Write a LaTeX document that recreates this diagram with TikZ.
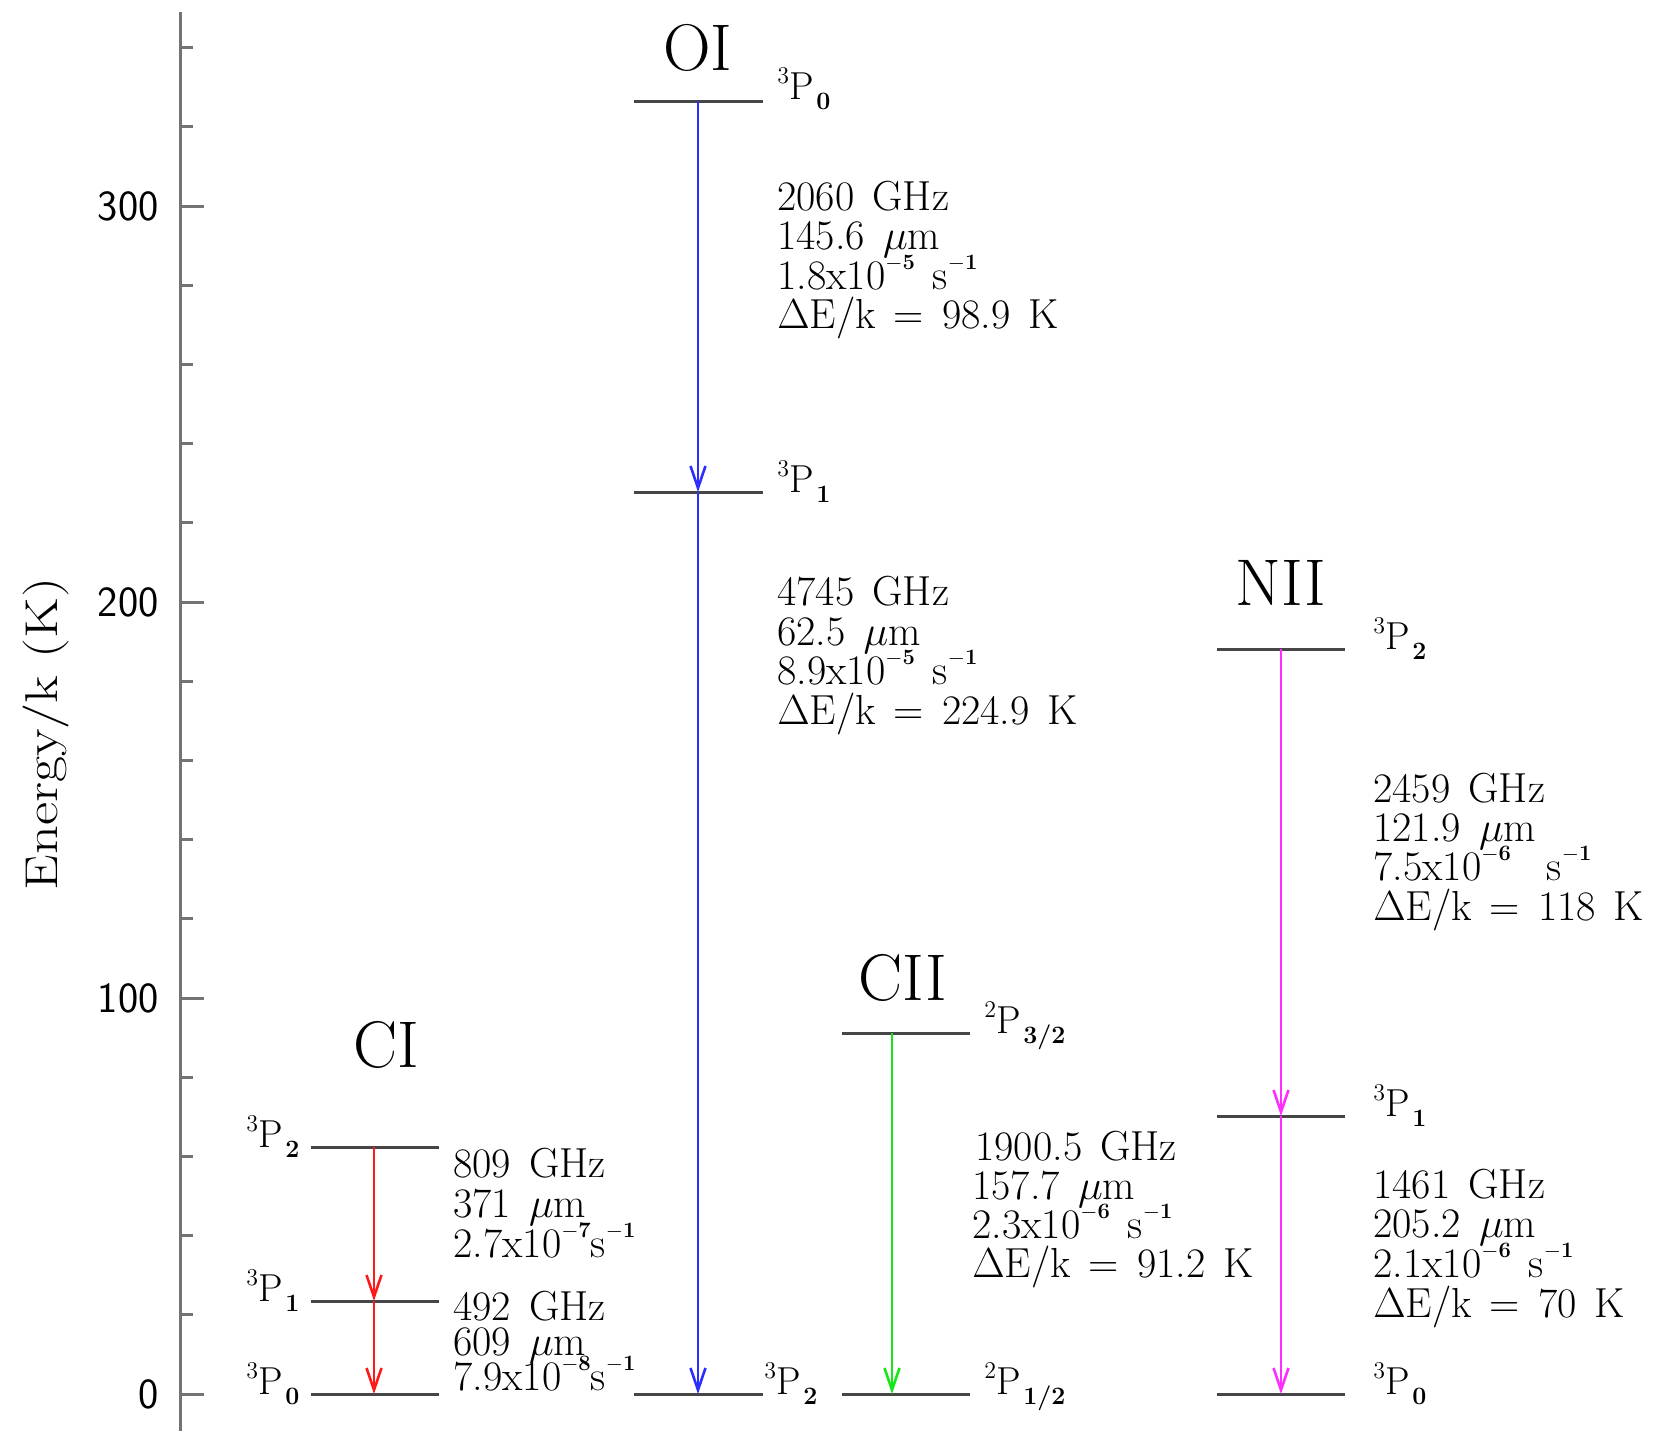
\RequirePackage{fix-cm}
\documentclass[tikz,border=0pt]{standalone}
\usetikzlibrary{arrows.meta}
\definecolor{lvlgray}{RGB}{70,70,70}
\definecolor{axgray}{RGB}{115,115,115}
\definecolor{oiblue}{RGB}{45,45,255}
\definecolor{cired}{RGB}{255,25,25}
\definecolor{ciigreen}{RGB}{25,230,25}
\definecolor{niimag}{RGB}{255,45,255}
\newcommand\trm[2]{\raisebox{8pt}{\fontsize{12}{12}\selectfont #1}\kern0.3pt P\kern1pt\raisebox{-5pt}{\fontsize{12.5}{12.5}\selectfont\bfseries #2}}
\newcommand\up[1]{\raisebox{10pt}{\fontsize{11}{11}\selectfont\bfseries #1}}
\begin{document}
\begin{tikzpicture}[x=0.5pt,y=-0.5pt,
  level/.style={draw=lvlgray, line width=1.5pt},
  axisline/.style={draw=axgray, line width=1.5pt},
  trans/.style={line width=1.3pt, -{Straight Barb[length=11pt,width=7.5pt,line width=1.3pt]}},
  datatext/.style={anchor=base west, inner sep=0pt, font={\fontsize{21}{21}\selectfont\spaceskip=9pt\relax}},
  termlab/.style={anchor=base west, inner sep=0pt, font=\fontsize{19.5}{19.5}\selectfont},
  species/.style={anchor=base, inner sep=0pt, font=\fontsize{33}{33}\selectfont},
  ticklab/.style={anchor=east, inner sep=0pt, font=\sffamily\fontsize{21.5}{21.5}\selectfont}]
\useasboundingbox (0,0) rectangle (1665,1431);

% axis
\coordinate (axtop) at (180.5,12);
\coordinate (axbot) at (180.5,1431);
\draw[axisline] (axtop) -- (axbot);
\foreach \k in {0,...,17}{
  \draw[axisline] (180.5,{1394-79.2*\k}) -- (193,{1394-79.2*\k});
}
\foreach \v/\n in {0/t0,100/t1,200/t2,300/t3}{
  \draw[axisline] (180.5,{1394-3.96*\v}) -- (204,{1394-3.96*\v});
  \node[ticklab] (\n) at (159,{1394-3.96*\v}) {\v};
}
\node[rotate=90, inner sep=0pt, font=\fontsize{23}{23}\selectfont] (ylab) at (46,734) {\scalebox{1.23}[1]{Energy/k (K)}};

% ---------- CI ----------
\coordinate (ci2l) at (311,1147); \coordinate (ci2r) at (439,1147); \coordinate (ci2m) at (374,1147);
\coordinate (ci1l) at (311,1301); \coordinate (ci1r) at (439,1301); \coordinate (ci1m) at (374,1301);
\coordinate (ci0l) at (311,1394); \coordinate (ci0r) at (439,1394); \coordinate (ci0m) at (374,1394);
\draw[level] (ci2l) -- (ci2r);
\draw[level] (ci1l) -- (ci1r);
\draw[level] (ci0l) -- (ci0r);
\draw[trans, cired] (ci2m) -- (ci1m);
\draw[trans, cired] (ci1m) -- (ci0m);
\node[species] (ciname) at (386,1067) {CI};
\node[termlab] (ci2t) at (246,1147) {\trm{3}{2}};
\node[termlab] (ci1t) at (246,1301) {\trm{3}{1}};
\node[termlab] (ci0t) at (246,1394) {\trm{3}{0}};
\node[datatext] (cia1) at (453,1177) {809 GHz};
\node[datatext] (cia2) at (453,1217) {371 $\mu$m};
\node[datatext] (cia3) at (453,1257) {2.7x10\up{$-$7}s\up{$-$1}};
\node[datatext] (cib1) at (453,1320) {492 GHz};
\node[datatext] (cib2) at (453,1355) {609 $\mu$m};
\node[datatext] (cib3) at (453,1390) {7.9x10\up{$-$8}s\up{$-$1}};

% ---------- OI ----------
\coordinate (oi0l) at (634,101); \coordinate (oi0r) at (763,101); \coordinate (oi0m) at (698,101);
\coordinate (oi1l) at (634,492); \coordinate (oi1r) at (763,492); \coordinate (oi1m) at (698,492);
\coordinate (oi2l) at (634,1394); \coordinate (oi2r) at (763,1394); \coordinate (oi2m) at (698,1394);
\draw[level] (oi0l) -- (oi0r);
\draw[level] (oi1l) -- (oi1r);
\draw[level] (oi2l) -- (oi2r);
\draw[trans, oiblue] (oi0m) -- (oi1m);
\draw[trans, oiblue] (oi1m) -- (oi2m);
\node[species] (oiname) at (698,70) {OI};
\node[termlab] (oi0t) at (777,99) {\trm{3}{0}};
\node[termlab] (oi1t) at (777,492) {\trm{3}{1}};
\node[termlab] (oi2t) at (764,1394) {\trm{3}{2}};
\node[datatext] (oia1) at (777,210) {2060 GHz};
\node[datatext] (oia2) at (777,249) {145.6 $\mu$m};
\node[datatext] (oia3) at (777,289) {1.8x10\up{$-$5} s\up{$-$1}};
\node[datatext] (oia4) at (777,328) {$\Delta$E/k = 98.9 K};
\node[datatext] (oib1) at (777,605) {4745 GHz};
\node[datatext] (oib2) at (777,645) {62.5 $\mu$m};
\node[datatext] (oib3) at (777,684) {8.9x10\up{$-$5} s\up{$-$1}};
\node[datatext] (oib4) at (777,724) {$\Delta$E/k = 224.9 K};

% ---------- CII ----------
\coordinate (c3l) at (842,1033); \coordinate (c3r) at (970,1033); \coordinate (c3m) at (892,1033);
\coordinate (c1l) at (842,1394); \coordinate (c1r) at (970,1394); \coordinate (c1m) at (892,1394);
\draw[level] (c3l) -- (c3r);
\draw[level] (c1l) -- (c1r);
\draw[trans, ciigreen] (c3m) -- (c1m);
\node[species] (ciiname) at (903,1000) {CII};
\node[termlab] (c3t) at (984,1033) {\trm{2}{3/2}};
\node[termlab] (c1t) at (984,1394) {\trm{2}{1/2}};
\node[datatext] (cii1) at (975,1160) {1900.5 GHz};
\node[datatext] (cii2) at (972,1199) {157.7 $\mu$m};
\node[datatext] (cii3) at (972,1238) {2.3x10\up{$-$6} s\up{$-$1}};
\node[datatext] (cii4) at (972,1277) {$\Delta$E/k = 91.2 K};

% ---------- NII ----------
\coordinate (n2l) at (1217,649); \coordinate (n2r) at (1345,649); \coordinate (n2m) at (1281,649);
\coordinate (n1l) at (1217,1116); \coordinate (n1r) at (1345,1116); \coordinate (n1m) at (1281,1116);
\coordinate (n0l) at (1217,1394); \coordinate (n0r) at (1345,1394); \coordinate (n0m) at (1281,1394);
\draw[level] (n2l) -- (n2r);
\draw[level] (n1l) -- (n1r);
\draw[level] (n0l) -- (n0r);
\draw[trans, niimag] (n2m) -- (n1m);
\draw[trans, niimag] (n1m) -- (n0m);
\node[species] (niiname) at (1281,605) {NII};
\node[termlab] (n2t) at (1373,649) {\trm{3}{2}};
\node[termlab] (n1t) at (1373,1116) {\trm{3}{1}};
\node[termlab] (n0t) at (1373,1394) {\trm{3}{0}};
\node[datatext] (nia1) at (1373,802) {2459 GHz};
\node[datatext] (nia2) at (1373,841) {121.9 $\mu$m};
\node[datatext] (nia3) at (1373,880) {7.5x10\up{$-$6}\ \ s\up{$-$1}};
\node[datatext] (nia4) at (1373,920) {$\Delta$E/k = 118 K};
\node[datatext] (nib1) at (1373,1198) {1461 GHz};
\node[datatext] (nib2) at (1373,1237) {205.2 $\mu$m};
\node[datatext] (nib3) at (1373,1277) {2.1x10\up{$-$6} s\up{$-$1}};
\node[datatext] (nib4) at (1373,1317) {$\Delta$E/k = 70 K};
\end{tikzpicture}
\end{document}
